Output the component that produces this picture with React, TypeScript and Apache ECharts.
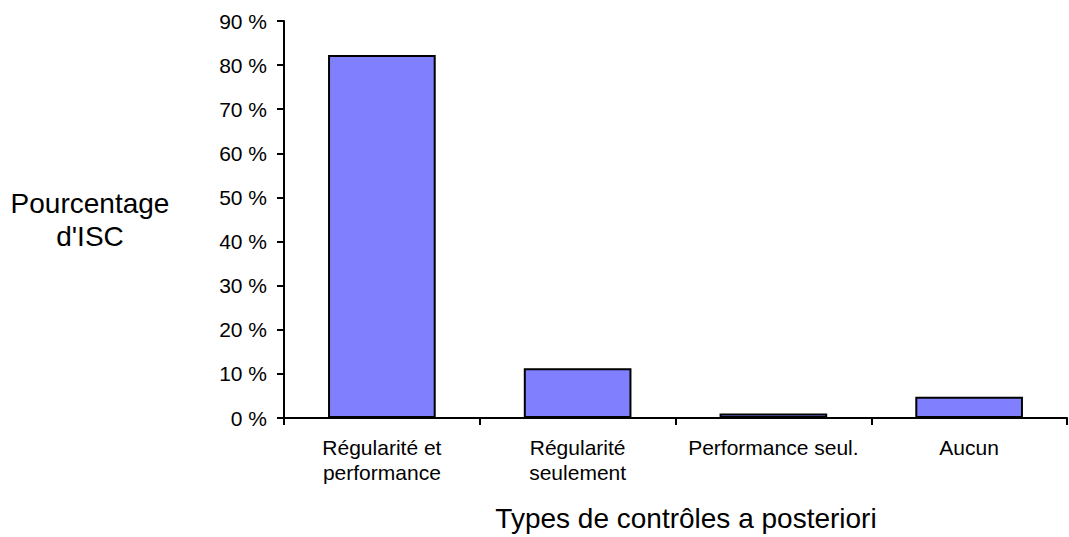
import React, { useEffect, useRef } from "react";
import * as echarts from "echarts";

const categories = [
  "Régularité et\nperformance",
  "Régularité\nseulement",
  "Performance seul.",
  "Aucun",
];
const values = [82.3, 11.3, 1.0, 4.8];
const yTicks = { min: 0, max: 90, interval: 10 };
const yAxisTitle = "Pourcentage\nd'ISC";
const xAxisTitle = "Types de contrôles a posteriori";

const FONT = "'Liberation Sans', Arial, Helvetica, sans-serif";

export default function App() {
  const ref = useRef<HTMLDivElement>(null);
  useEffect(() => {
    if (!ref.current) return;
    const chart = echarts.init(ref.current, undefined, { renderer: "svg" });
    chart.setOption({
      animation: false,
      backgroundColor: "#ffffff",
      textStyle: { fontFamily: FONT, color: "#000" },
      grid: { left: 284, right: 2, top: 21, bottom: 118, containLabel: false },
      xAxis: {
        type: "category",
        data: categories,
        boundaryGap: true,
        name: xAxisTitle,
        nameLocation: "middle",
        nameGap: 86,
        nameTextStyle: {
          fontFamily: FONT,
          fontSize: 28,
          color: "#000",
          padding: [0, 0, 0, 21],
        },
        axisLine: { show: true, lineStyle: { color: "#000", width: 2 } },
        axisTick: {
          show: true,
          alignWithLabel: false,
          length: 7,
          lineStyle: { color: "#000", width: 2 },
        },
        axisLabel: {
          fontFamily: FONT,
          fontSize: 21,
          color: "#000",
          margin: 17,
          lineHeight: 25,
          interval: 0,
        },
        splitLine: { show: false },
      },
      yAxis: {
        type: "value",
        min: yTicks.min,
        max: yTicks.max,
        interval: yTicks.interval,
        name: yAxisTitle,
        nameLocation: "middle",
        nameRotate: 0,
        nameGap: 194,
        nameTextStyle: {
          fontFamily: FONT,
          fontSize: 28,
          color: "#000",
          align: "center",
          verticalAlign: "middle",
          lineHeight: 33,
        },
        axisLine: { show: true, lineStyle: { color: "#000", width: 2 } },
        axisTick: {
          show: true,
          length: 7,
          lineStyle: { color: "#000", width: 2 },
        },
        axisLabel: {
          fontFamily: FONT,
          fontSize: 21,
          color: "#000",
          margin: 17,
          formatter: "{value} %",
        },
        splitLine: { show: false },
      },
      series: [
        {
          type: "bar",
          data: values,
          barWidth: "55%",
          itemStyle: {
            color: "#8080FF",
            borderColor: "#000",
            borderWidth: 2,
          },
        },
      ],
    });
    return () => chart.dispose();
  }, []);
  return (
    <div
      ref={ref}
      style={{ position: "fixed", left: 0, top: 0, width: 1069, height: 537 }}
    />
  );
}
